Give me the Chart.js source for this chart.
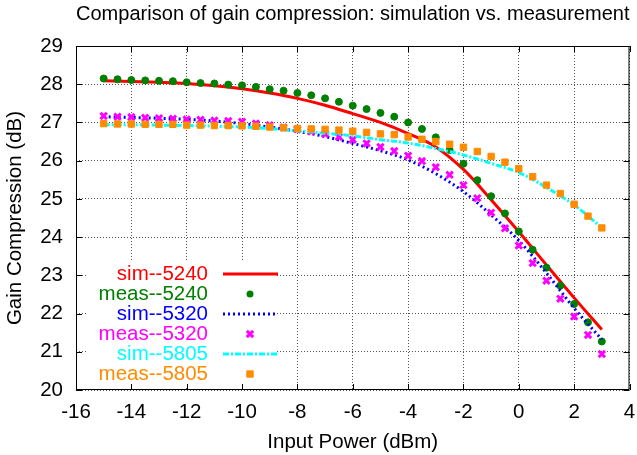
<!DOCTYPE html>
<html>
<head>
    <title>Gain compression</title>
    <script src="https://cdn.jsdelivr.net/npm/chart.js"></script>
    <style>
        html, body { margin: 0; padding: 0; background: #fff; }
    </style>
</head>
<body>
    <canvas id="Chart" width="637" height="455"></canvas>
    <script>
        // input power of the measured points (dBm)
        const measPower = [-15, -14.5, -14, -13.5, -13, -12.5, -12, -11.5, -11, -10.5, -10, -9.5, -9, -8.5,
            -8, -7.5, -7, -6.5, -6, -5.5, -5, -4.5, -4, -3.5, -3, -2.5, -2, -1.5, -1, -0.5,
            0, 0.5, 1, 1.5, 2, 2.5, 3];
        // input power of the simulated curves (dBm)
        const simPower = [-15, -14, -13, -12, -11, -10, -9, -8, -7, -6, -5, -4, -3, -2, -1, 0, 1, 2, 3];

        const sim5240 = [28.09, 28.07, 28.05, 28.02, 27.96, 27.88, 27.77, 27.63, 27.45, 27.23,
            27.00, 26.71, 26.36, 25.77, 24.98, 24.14, 23.27, 22.41, 21.58];
        const meas5240 = [28.15, 28.13, 28.11, 28.10, 28.09, 28.08, 28.05, 28.03, 28.02, 27.99, 27.97, 27.93,
            27.87, 27.83, 27.77, 27.71, 27.63, 27.54, 27.44, 27.35, 27.25, 27.15, 27.00, 26.83, 26.61,
            26.28, 25.92, 25.49, 25.07, 24.62, 24.15, 23.67, 23.20, 22.73, 22.25, 21.77, 21.27];
        const sim5320 = [27.15, 27.13, 27.11, 27.08, 27.04, 26.97, 26.88, 26.77, 26.63, 26.45,
            26.26, 26.02, 25.66, 25.19, 24.58, 23.91, 23.06, 22.14, 21.32];
        const meas5320 = [27.17, 27.15, 27.14, 27.12, 27.11, 27.10, 27.08, 27.07, 27.05, 27.04, 27.02, 26.97,
            26.93, 26.87, 26.82, 26.76, 26.70, 26.62, 26.55, 26.45, 26.36, 26.25, 26.13, 25.99, 25.83,
            25.63, 25.36, 25.02, 24.64, 24.23, 23.78, 23.32, 22.86, 22.39, 21.92, 21.44, 20.94];
        const sim5805 = [26.94, 26.94, 26.93, 26.92, 26.90, 26.88, 26.84, 26.78, 26.72, 26.65,
            26.55, 26.46, 26.32, 26.15, 25.93, 25.69, 25.30, 24.84, 24.25];
        const meas5805 = [26.97, 26.96, 26.96, 26.95, 26.95, 26.95, 26.93, 26.93, 26.92, 26.92, 26.91, 26.90,
            26.88, 26.86, 26.84, 26.83, 26.82, 26.80, 26.77, 26.74, 26.70, 26.68, 26.62, 26.56, 26.50,
            26.43, 26.35, 26.24, 26.11, 25.96, 25.79, 25.58, 25.36, 25.14, 24.86, 24.55, 24.24];

        const xTicks = [-16, -14, -12, -10, -8, -6, -4, -2, 0, 2, 4];
        const yTicks = [20, 21, 22, 23, 24, 25, 26, 27, 28, 29];

        const FONT = '"Liberation Sans", Arial, Helvetica, sans-serif';
        const FSIZE = 20.5;

        function pts(xs, ys) {
            return xs.map((x, i) => ({ x: x, y: ys[i] }));
        }

        function simSet(label, xs, ys, color, dash, order) {
            return {
                label: label, data: pts(xs, ys), showLine: true,
                borderColor: color, backgroundColor: color, borderWidth: 3, borderDash: dash,
                pointRadius: 0, cubicInterpolationMode: 'monotone', order: order
            };
        }

        function measSet(label, xs, ys, color, style, radius, bw, order) {
            return {
                label: label, data: pts(xs, ys), showLine: false,
                borderColor: color, backgroundColor: color, pointStyle: style,
                pointRadius: radius, pointBorderWidth: bw, order: order
            };
        }

        // legend with right aligned text and opaque background, plus the plot frame
        const framePlugin = {
            id: 'frame',
            afterDraw(chart) {
                const ctx = chart.ctx;
                const a = chart.chartArea;
                ctx.save();

                ctx.fillStyle = '#fff';
                ctx.fillRect(a.left + 12, a.bottom - 130, 189, 127);

                ctx.font = FSIZE + 'px ' + FONT;
                ctx.textAlign = 'right';
                ctx.textBaseline = 'middle';
                chart.data.datasets.forEach((ds, i) => {
                    const y = a.bottom - 116 + i * 20;
                    ctx.fillStyle = ds.borderColor;
                    ctx.fillText(ds.label, a.left + 132, y);
                    ctx.strokeStyle = ds.borderColor;
                    if (ds.showLine) {
                        ctx.lineWidth = 3;
                        ctx.setLineDash(ds.borderDash || []);
                        ctx.beginPath();
                        ctx.moveTo(a.left + 147, y);
                        ctx.lineTo(a.left + 202, y);
                        ctx.stroke();
                        ctx.setLineDash([]);
                    } else {
                        const cx = a.left + 174;
                        const r = ds.pointRadius;
                        ctx.lineWidth = ds.pointBorderWidth;
                        ctx.beginPath();
                        if (ds.pointStyle === 'circle') {
                            ctx.arc(cx, y, r, 0, Math.PI * 2);
                            ctx.fill();
                        } else if (ds.pointStyle === 'crossRot') {
                            const d = r * Math.SQRT1_2;
                            ctx.moveTo(cx - d, y - d); ctx.lineTo(cx + d, y + d);
                            ctx.moveTo(cx - d, y + d); ctx.lineTo(cx + d, y - d);
                            ctx.stroke();
                        } else {
                            const s = r * Math.SQRT1_2;
                            ctx.rect(cx - s, y - s, 2 * s, 2 * s);
                            ctx.fill();
                            ctx.stroke();
                        }
                    }
                });

                // frame and inward ticks
                ctx.strokeStyle = '#000';
                ctx.lineWidth = 1;
                ctx.strokeRect(a.left + 0.5, a.top + 0.5, a.width - 1, a.height - 1);
                ctx.beginPath();
                const sx = chart.scales.x, sy = chart.scales.y;
                xTicks.forEach(v => {
                    const px = Math.round(sx.getPixelForValue(v)) + 0.5;
                    ctx.moveTo(px, a.bottom); ctx.lineTo(px, a.bottom - 6);
                    ctx.moveTo(px, a.top); ctx.lineTo(px, a.top + 6);
                });
                yTicks.forEach(v => {
                    const py = Math.round(sy.getPixelForValue(v)) + 0.5;
                    ctx.moveTo(a.left, py); ctx.lineTo(a.left + 6, py);
                    ctx.moveTo(a.right, py); ctx.lineTo(a.right - 6, py);
                });
                ctx.stroke();
                ctx.restore();
            }
        };

        const ctx = document.getElementById('Chart').getContext('2d');
        const chart = new Chart(ctx, {
            type: 'scatter',
            data: {
                datasets: [
                    simSet('sim--5240', simPower, sim5240, '#ff0000', [], 6),
                    measSet('meas--5240', measPower, meas5240, '#008000', 'circle', 3.5, 1, 5),
                    simSet('sim--5320', simPower, sim5320, '#0000ff', [2, 3], 4),
                    measSet('meas--5320', measPower, meas5320, '#ff00ff', 'crossRot', 4.5, 3, 3),
                    simSet('sim--5805', simPower, sim5805, '#00ffff', [6, 2, 2, 2], 2),
                    measSet('meas--5805', measPower, meas5805, '#ff8c00', 'rect', 4.5, 1, 1)
                ]
            },
            options: {
                responsive: false,
                animation: false,
                layout: { padding: { left: 0, right: 6, top: 0, bottom: 0 } },
                plugins: {
                    legend: { display: false },
                    tooltip: { enabled: false },
                    title: {
                        display: true,
                        fullSize: false,
                        text: 'Comparison of gain compression: simulation vs. measurement',
                        color: '#000',
                        font: { family: FONT, size: FSIZE, weight: 'normal' },
                        padding: { top: 2, bottom: 19.4 }
                    }
                },
                scales: {
                    x: {
                        type: 'linear', min: -16, max: 4,
                        afterBuildTicks: s => { s.ticks = xTicks.map(v => ({ value: v })); },
                        afterFit: s => { s.height = 65; s.paddingLeft = 0; s.paddingRight = 0; },
                        grid: { color: '#555', drawTicks: false },
                        border: { display: false, dash: [1, 2] },
                        ticks: { color: '#000', padding: 10, maxRotation: 0, font: { family: FONT, size: FSIZE } },
                        title: {
                            display: true, text: 'Input Power (dBm)', color: '#000',
                            font: { family: FONT, size: FSIZE }, padding: { top: 0, bottom: 0 }
                        }
                    },
                    y: {
                        type: 'linear', min: 20, max: 29,
                        afterBuildTicks: s => { s.ticks = yTicks.map(v => ({ value: v })); },
                        afterFit: s => { s.width = 76; s.paddingTop = 0; s.paddingBottom = 0; },
                        grid: { color: '#555', drawTicks: false },
                        border: { display: false, dash: [1, 2] },
                        ticks: { color: '#000', padding: 13, font: { family: FONT, size: FSIZE } },
                        title: {
                            display: true, text: 'Gain Compression (dB)', color: '#000',
                            font: { family: FONT, size: FSIZE }, padding: { top: 3, bottom: 0 }
                        }
                    }
                }
            },
            plugins: [framePlugin]
        });
    </script>
</body>
</html>
